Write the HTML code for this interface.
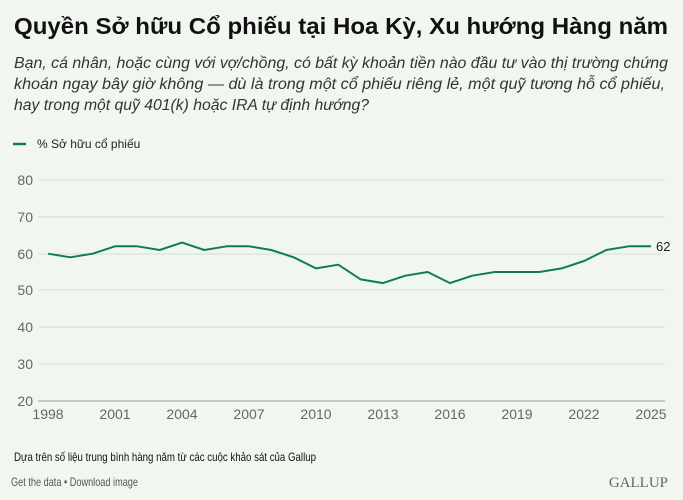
<!DOCTYPE html>
<html><head><meta charset="utf-8"><style>
body{margin:0;width:683px;height:495px;background:#f1f7f0;overflow:hidden;font-family:"Liberation Sans","DejaVu Sans",sans-serif}
</style></head><body>
<svg width="683" height="495" xmlns="http://www.w3.org/2000/svg" font-family="Liberation Sans, DejaVu Sans, sans-serif">
<text x="14" y="34" font-size="23" font-weight="bold" fill="#111" textLength="654" lengthAdjust="spacingAndGlyphs">Quyền Sở hữu Cổ phiếu tại Hoa Kỳ, Xu hướng Hàng năm</text>
<g font-size="15.5" font-style="italic" fill="#333">
<text x="14" y="68" textLength="654" lengthAdjust="spacingAndGlyphs">Bạn, cá nhân, hoặc cùng với vợ/chồng, có bất kỳ khoản tiền nào đầu tư vào thị trường chứng</text>
<text x="14" y="89" textLength="651" lengthAdjust="spacingAndGlyphs">khoán ngay bây giờ không — dù là trong một cổ phiếu riêng lẻ, một quỹ tương hỗ cổ phiếu,</text>
<text x="14" y="110" textLength="355" lengthAdjust="spacingAndGlyphs">hay trong một quỹ 401(k) hoặc IRA tự định hướng?</text>
</g>
<line x1="13" y1="144" x2="26" y2="144" stroke="#0e7f4a" stroke-width="2.5"/>
<text x="37" y="148" font-size="12" fill="#222">% Sở hữu cổ phiếu</text>
<g stroke="#d6ddd5" stroke-width="1">
<line x1="38" y1="180" x2="665" y2="180"/><line x1="38" y1="217" x2="665" y2="217"/><line x1="38" y1="254" x2="665" y2="254"/><line x1="38" y1="290" x2="665" y2="290"/><line x1="38" y1="327" x2="665" y2="327"/><line x1="38" y1="364" x2="665" y2="364"/><line x1="38" y1="401" x2="665" y2="401" stroke="#999"/>
</g>
<g font-size="14" fill="#666" text-anchor="end">
<text x="33" y="185">80</text><text x="33" y="222">70</text><text x="33" y="259">60</text><text x="33" y="295">50</text><text x="33" y="332">40</text><text x="33" y="369">30</text><text x="33" y="406">20</text>
</g>
<g font-size="14" fill="#666" text-anchor="middle">
<text x="48" y="419">1998</text><text x="115" y="419">2001</text><text x="182" y="419">2004</text><text x="249" y="419">2007</text><text x="316" y="419">2010</text><text x="383" y="419">2013</text><text x="450" y="419">2016</text><text x="517" y="419">2019</text><text x="584" y="419">2022</text><text x="651" y="419">2025</text>
</g>
<polyline fill="none" stroke="#0e7f4a" stroke-width="2" stroke-linejoin="round" points="48,253.7 70.3,257.3 92.7,253.7 115,246.3 137.3,246.3 159.7,250 182,242.6 204.3,250 226.7,246.3 249,246.3 271.3,250 293.7,257.3 316,268.4 338.3,264.7 360.7,279.4 383,283.1 405.3,275.7 427.7,272 450,283.1 472.3,275.7 494.7,272 517,272 539.3,272 561.7,268.4 584,261 606.3,250 628.7,246.3 651,246.3"/>
<text x="656" y="251" font-size="13" fill="#222">62</text>
<text x="14" y="461" font-size="12" fill="#111" textLength="302" lengthAdjust="spacingAndGlyphs">Dựa trên số liệu trung bình hàng năm từ các cuộc khảo sát của Gallup</text>
<text x="11" y="486" font-size="12" fill="#555" textLength="127" lengthAdjust="spacingAndGlyphs">Get the data • Download image</text>
<text x="668" y="487" font-size="15" fill="#666" font-family="Liberation Serif, serif" text-anchor="end">GALLUP</text>
</svg>
</body></html>
